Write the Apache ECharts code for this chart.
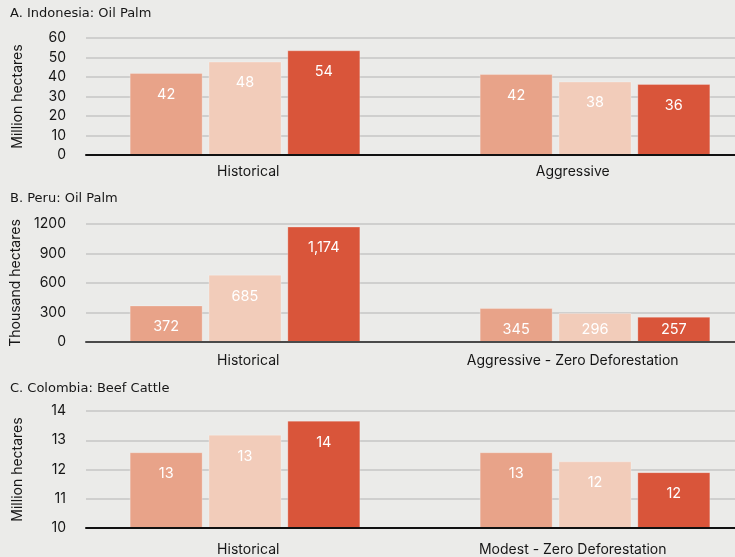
<!DOCTYPE html>
<html>
<head>
<meta charset="utf-8">
<script src="https://cdn.jsdelivr.net/npm/echarts@6/dist/echarts.min.js"></script>
<style>
  html, body { margin: 0; padding: 0; background: #ebebe9; }
  #chart { width: 735px; height: 557px; }
</style>
</head>
<body>
<div id="chart"></div>
<script>
// Land area requirements per commodity and scenario
const panelTitles = ['A. Indonesia: Oil Palm', 'B. Peru: Oil Palm', 'C. Colombia: Beef Cattle'];
const axisNames = ['Million hectares', 'Thousand hectares', 'Million hectares'];

const indonesiaCategories = ['Historical', 'Aggressive'];
const peruCategories = ['Historical', 'Aggressive - Zero Deforestation'];
const colombiaCategories = ['Historical', 'Modest - Zero Deforestation'];

// three bars per scenario group (light, pale, dark)
const indonesiaBar1 = [42.1, 41.5];
const indonesiaBar2 = [47.9, 37.7];
const indonesiaBar3 = [53.7, 36.4];

const peruBar1 = [372, 345];
const peruBar2 = [685, 296];
const peruBar3 = [1174, 257];

const colombiaBar1 = [12.59, 12.59];
const colombiaBar2 = [13.19, 12.28];
const colombiaBar3 = [13.67, 11.91];

const indonesiaTicks = { min: 0, max: 60, interval: 10 };
const peruTicks = { min: 0, max: 1200, interval: 300 };
const colombiaTicks = { min: 10, max: 14, interval: 1 };

const barColors = ['#e8a389', '#f2ccba', '#d9553a'];
const FONT = 'Inter';
const TITLE_FONT = 'DejaVu Sans';
const TEXT = '#161616';

const panels = [
  { cats: indonesiaCategories, bars: [indonesiaBar1, indonesiaBar2, indonesiaBar3], ticks: indonesiaTicks,
    top: 38, height: 117, titleY: 2, axisColor: '#111', labelMargin: 10, fmt: v => String(Math.round(v)) },
  { cats: peruCategories, bars: [peruBar1, peruBar2, peruBar3], ticks: peruTicks,
    top: 224, height: 118, titleY: 187, axisColor: '#4a4a4a', labelMargin: 12,
    fmt: v => Math.round(v).toLocaleString('en-US') },
  { cats: colombiaCategories, bars: [colombiaBar1, colombiaBar2, colombiaBar3], ticks: colombiaTicks,
    top: 411, height: 117, titleY: 377, axisColor: '#111', labelMargin: 15, fmt: v => String(Math.round(v)) }
];

const grid = [], xAxis = [], yAxis = [], series = [], title = [];

panels.forEach((p, k) => {
  const gAxes = grid.length;
  // grid carrying the visible axes, gridlines and tick labels
  grid.push({ left: 86, right: 0, top: p.top, height: p.height });
  // grid carrying the bars; it runs past the right edge so the groups sit where they should
  const gBars = grid.length;
  grid.push({ left: 70, width: 700, top: p.top, height: p.height, outerBoundsMode: 'none' });

  title.push({
    text: panelTitles[k], left: 5, top: p.titleY,
    textStyle: { fontFamily: TITLE_FONT, fontSize: 13, fontWeight: 'normal', color: TEXT }
  });

  xAxis.push({
    type: 'category', gridIndex: gAxes, data: p.cats, z: 5,
    axisLine: { show: true, lineStyle: { color: p.axisColor, width: 2 } },
    axisTick: { show: false },
    axisLabel: { fontFamily: FONT, fontSize: 14, color: TEXT, margin: p.labelMargin }
  });
  yAxis.push({
    type: 'value', gridIndex: gAxes, min: p.ticks.min, max: p.ticks.max, interval: p.ticks.interval,
    name: axisNames[k], nameLocation: 'middle', nameRotate: 90, nameGap: 61,
    nameTextStyle: { fontFamily: FONT, fontSize: 14, color: TEXT },
    axisLine: { show: false }, axisTick: { show: false },
    axisLabel: { fontFamily: FONT, fontSize: 14, color: TEXT, margin: 20, formatter: v => String(v) },
    splitLine: { lineStyle: { color: '#c6c6c4', width: 1.5 } }
  });

  const xb = xAxis.length, yb = yAxis.length;
  xAxis.push({ type: 'category', gridIndex: gBars, data: p.cats, show: false });
  yAxis.push({ type: 'value', gridIndex: gBars, min: p.ticks.min, max: p.ticks.max,
    interval: p.ticks.interval, show: false, splitLine: { show: false } });

  const span = p.ticks.max - p.ticks.min;
  p.bars.forEach((vals, i) => {
    series.push({
      type: 'bar', xAxisIndex: xb, yAxisIndex: yb,
      barWidth: 73, barGap: '8%',
      itemStyle: { color: barColors[i], borderColor: 'rgba(255,255,255,0.25)', borderWidth: 1 },
      data: vals.map(v => {
        const px = (v - p.ticks.min) / span * p.height;
        const short = px < 34;
        return {
          value: v,
          label: short
            ? { position: 'insideBottom', distance: 5 }
            : { position: 'insideTop', distance: 14 }
        };
      }),
      label: {
        show: true, color: '#ffffff', fontFamily: FONT, fontSize: 14.5,
        formatter: d => p.fmt(d.value)
      }
    });
  });
});

const chart = echarts.init(document.getElementById('chart'));
chart.setOption({
  backgroundColor: '#ebebe9',
  animation: false,
  title, grid, xAxis, yAxis, series
});
</script>
</body>
</html>
